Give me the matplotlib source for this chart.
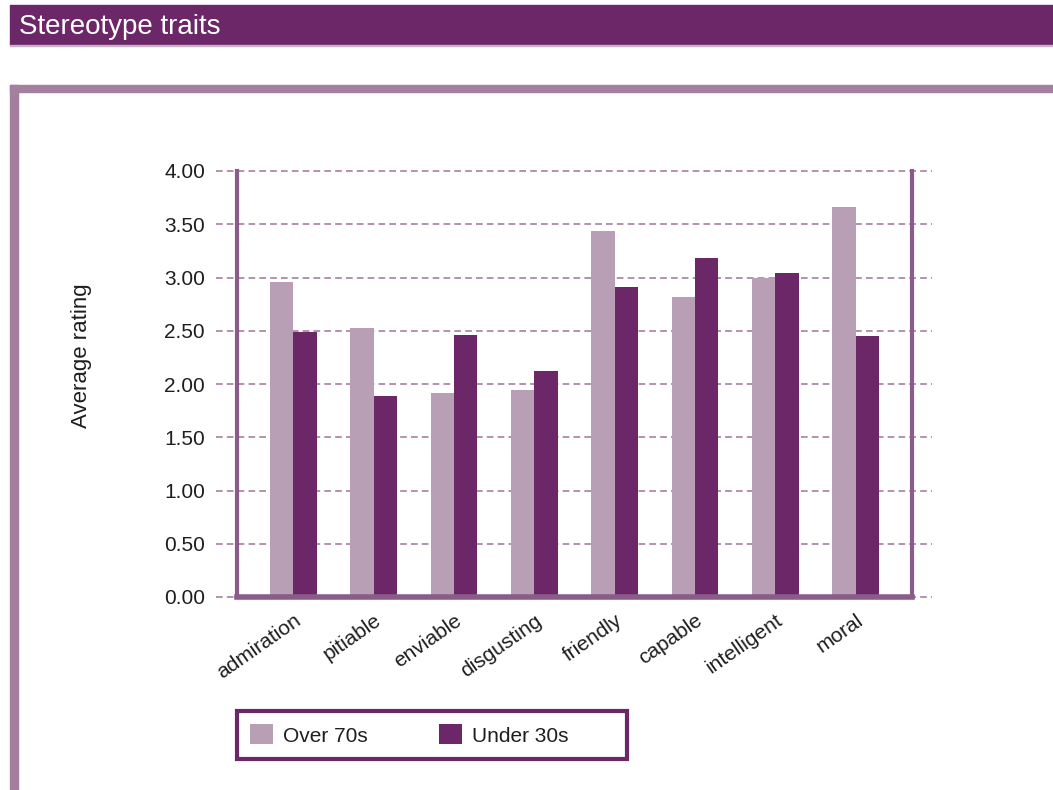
import matplotlib.pyplot as plt
import numpy as np
from matplotlib.patches import Rectangle
from matplotlib.lines import Line2D

plt.rcParams['font.family'] = ['Liberation Sans', 'DejaVu Sans']

# Average rating per trait
traits = ['admiration', 'pitiable', 'enviable', 'disgusting',
          'friendly', 'capable', 'intelligent', 'moral']
over_70s = [2.96, 2.53, 1.92, 1.94, 3.44, 2.82, 3.00, 3.66]
under_30s = [2.49, 1.89, 2.46, 2.12, 2.91, 3.18, 3.04, 2.45]
yticks = [0.0, 0.5, 1.0, 1.5, 2.0, 2.5, 3.0, 3.5, 4.0]

light = '#B89FB5'
dark = '#6B2767'
frame = '#A57FA0'
spine = '#8B5C8A'
txt = '#1E1E1E'

W, H = 1053, 790
fig = plt.figure(figsize=(W / 100, H / 100), dpi=100)

# header bar and outer frame
fig.patches.append(Rectangle((10 / W, 1 - 45 / H), 1 - 10 / W, 40 / H,
                             transform=fig.transFigure, color=dark, zorder=0))
fig.patches.append(Rectangle((10 / W, 1 - 46 / H), 1 - 10 / W, 1 / H,
                             transform=fig.transFigure, color='#C9B3C6', zorder=0))
fig.patches.append(Rectangle((10 / W, 1 - 92 / H), 1 - 10 / W, 7 / H,
                             transform=fig.transFigure, color=frame, zorder=0))
fig.patches.append(Rectangle((10 / W, 0), 8 / W, 1 - 85 / H,
                             transform=fig.transFigure, color=frame, zorder=0))
fig.text(19 / W, 1 - 27 / H, 'Stereotype traits', color='white',
         fontsize=20, va='center', ha='left')

ax = fig.add_axes([237 / W, 1 - 597 / H, (912 - 237) / W, (597 - 171) / H])
x = np.arange(len(traits))
w = 0.29
ax.bar(x - w / 2, over_70s, w, color=light, label='Over 70s', zorder=2)
ax.bar(x + w / 2, under_30s, w, color=dark, label='Under 30s', zorder=2)

ax.set_xlim(-0.7, 7.7)
ax.set_ylim(0, 4)
ax.set_yticks(yticks)
ax.set_yticklabels([f'{v:.2f}' for v in yticks], fontsize=15, color=txt)
ax.tick_params(axis='y', length=0, pad=23)
ax.set_xticks(x)
ax.set_xticklabels(traits, rotation=35, ha='right', rotation_mode='anchor',
                   fontsize=15, color=txt)
ax.tick_params(axis='x', length=0, pad=10)

# dashed grid running past both sides of the plot
for v in yticks:
    ax.add_line(Line2D([-0.031, 1.03], [v / 4, v / 4], transform=ax.transAxes,
                       color=frame, lw=1.2, ls=(0, (4, 2.5)), clip_on=False,
                       zorder=1))

ax.spines['top'].set_visible(False)
ax.spines['left'].set_color(spine)
ax.spines['left'].set_linewidth(3)
ax.spines['right'].set_color(spine)
ax.spines['right'].set_linewidth(3)
ax.spines['bottom'].set_color(spine)
ax.spines['bottom'].set_linewidth(4)

fig.text(82 / W, 1 - 356 / H, 'Average rating', rotation=90,
         fontsize=16, ha='center', va='center', color=txt)

# legend box drawn separately so it can be wider than its entries
fig.patches.append(Rectangle((237 / W, 1 - 759 / H), 390 / W, 48 / H,
                             transform=fig.transFigure, facecolor='none',
                             edgecolor=dark, lw=3, zorder=3))
leg = ax.legend(loc='center left', bbox_to_anchor=(250 / W, 1 - 735 / H),
                bbox_transform=fig.transFigure, ncol=2, frameon=False,
                fontsize=15, handlelength=1.1, handleheight=1.1,
                handletextpad=0.5, borderpad=0, borderaxespad=0,
                columnspacing=3.4)
for t in leg.get_texts():
    t.set_color(txt)

fig.savefig('out.png', dpi=100)
